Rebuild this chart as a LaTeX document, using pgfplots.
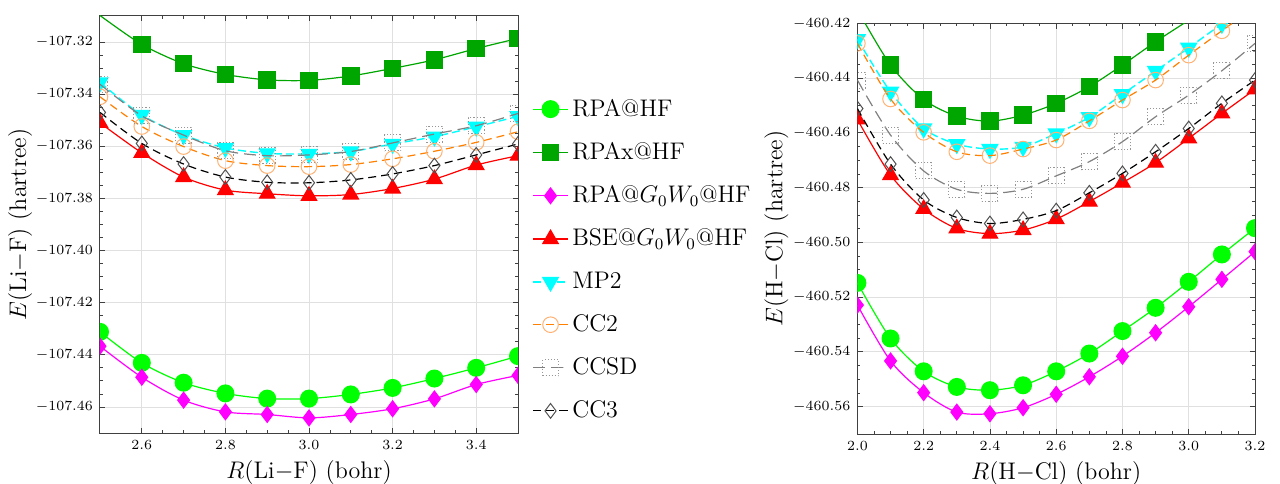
\documentclass[border=0pt]{standalone}
\usepackage{pgfplots}
\pgfplotsset{compat=1.18}
\definecolor{cgreen}{RGB}{0,255,0}
\definecolor{dgreen}{RGB}{0,166,0}
\definecolor{cmag}{RGB}{255,0,255}
\definecolor{cred}{RGB}{255,0,0}
\definecolor{ccyan}{RGB}{0,255,255}
\definecolor{corange}{RGB}{255,128,0}
\definecolor{lorange}{RGB}{255,178,115}
\definecolor{cgray}{RGB}{128,128,128}
\definecolor{lgray}{RGB}{150,150,150}
\definecolor{dgray}{RGB}{80,80,80}
\pgfplotsset{
  common/.style={
    scale only axis,
    axis line style={black!75, line width=0.5pt},
    tick align=inside,
    major tick length=2.6pt,
    minor tick length=1.5pt,
    tick style={black!75, line width=0.4pt},
    minor tick num=3,
    grid=major,
    major grid style={black!12, line width=0.4pt},
    clip marker paths=true,
    tick label style={font=\fontsize{7}{8}\selectfont},
    label style={font=\fontsize{12}{14}\selectfont},
    xticklabel style={/pgf/number format/.cd, fixed, fixed zerofill, precision=1},
    yticklabel style={/pgf/number format/.cd, fixed, fixed zerofill, precision=2, 1000 sep={}},
  },
  sA/.style={cgreen, line width=0.6pt, smooth, mark=*, mark size=4.2pt, mark options={solid, fill=cgreen, draw=cgreen}},
  sB/.style={dgreen, line width=0.6pt, smooth, mark=square*, mark size=4.1pt, mark options={solid, fill=dgreen, draw=dgreen}},
  sC/.style={cmag, line width=0.6pt, smooth, mark=diamond*, mark size=3.9pt, mark options={solid, fill=cmag, draw=cmag}},
  sD/.style={cred, line width=0.6pt, smooth, mark=triangle*, mark size=4.4pt, mark options={solid, fill=cred, draw=cred}},
  sE/.style={ccyan, line width=0.7pt, smooth, dash pattern=on 4pt off 2pt, mark=triangle*, mark size=4.4pt, mark options={solid, rotate=180, fill=ccyan, draw=ccyan}},
  sF/.style={corange, line width=0.6pt, smooth, dash pattern=on 4pt off 2.5pt, mark=o, mark size=3.9pt, mark options={solid, draw=lorange, line width=0.5pt}},
  sG/.style={cgray, line width=0.6pt, smooth, dash pattern=on 6pt off 3pt, mark=square, mark size=4pt, mark options={densely dotted, draw=lgray, line width=0.5pt}},
  sH/.style={black, line width=0.6pt, smooth, dash pattern=on 4pt off 2.5pt, mark=diamond, mark size=3.7pt, mark options={solid, draw=dgray, line width=0.5pt}},
}
\begin{document}
\begin{tikzpicture}
\path[use as bounding box] (0,0) rectangle (640pt,241.5pt);
\begin{axis}[common,
  at={(50pt,25pt)}, anchor=south west,
  width=209pt, height=208.5pt,
  xmin=2.5, xmax=3.5, ymin=-107.47, ymax=-107.31,
  xtick={2.6,2.8,3.0,3.2,3.4},
  ytick={-107.46,-107.44,-107.42,-107.40,-107.38,-107.36,-107.34,-107.32},
  xlabel={$R$(Li$-$F) (bohr)},
  ylabel={$E$(Li$-$F) (hartree)},
  xlabel style={yshift=1pt},
  ylabel style={yshift=-5pt},
  legend style={at={(1.02,0.415)}, anchor=west, draw=none, fill=none,
    font=\fontsize{12}{14}\selectfont, row sep=7.6pt,
    /tikz/every even column/.append style={column sep=2pt}},
  legend cell align=left,
]
\addplot[sA] coordinates {(2.5,-107.4312) (2.6,-107.4431) (2.7,-107.4507) (2.8,-107.4548) (2.9,-107.4568) (3.0,-107.4568) (3.1,-107.4552) (3.2,-107.4527) (3.3,-107.4491) (3.4,-107.4450) (3.5,-107.4405)};
\addlegendentry{RPA@HF}
\addplot[sB] coordinates {(2.5,-107.3098) (2.6,-107.3209) (2.7,-107.3283) (2.8,-107.3324) (2.9,-107.3345) (3.0,-107.3347) (3.1,-107.3330) (3.2,-107.3301) (3.3,-107.3268) (3.4,-107.3225) (3.5,-107.3186)};
\addlegendentry{RPAx@HF}
\addplot[sC] coordinates {(2.5,-107.4367) (2.6,-107.4486) (2.7,-107.4574) (2.8,-107.4619) (2.9,-107.4629) (3.0,-107.4642) (3.1,-107.4629) (3.2,-107.4607) (3.3,-107.4569) (3.4,-107.4514) (3.5,-107.4479)};
\addlegendentry{RPA@$G_0W_0$@HF}
\addplot[sD] coordinates {(2.5,-107.3510) (2.6,-107.3625) (2.7,-107.3718) (2.8,-107.3768) (2.9,-107.3782) (3.0,-107.3790) (3.1,-107.3785) (3.2,-107.3762) (3.3,-107.3726) (3.4,-107.3672) (3.5,-107.3636)};
\addlegendentry{BSE@$G_0W_0$@HF}
\addplot[sE] coordinates {(2.5,-107.3355) (2.6,-107.3480) (2.7,-107.3557) (2.8,-107.3606) (2.9,-107.3627) (3.0,-107.3629) (3.1,-107.3620) (3.2,-107.3591) (3.3,-107.3563) (3.4,-107.3525) (3.5,-107.3485)};
\addlegendentry{MP2}
\addplot[sF] coordinates {(2.5,-107.3410) (2.6,-107.3524) (2.7,-107.3601) (2.8,-107.3655) (2.9,-107.3674) (3.0,-107.3678) (3.1,-107.3670) (3.2,-107.3648) (3.3,-107.3619) (3.4,-107.3585) (3.5,-107.3544)};
\addlegendentry{CC2}
\addplot[sG] coordinates {(2.5,-107.3362) (2.6,-107.3483) (2.7,-107.3557) (2.8,-107.3617) (2.9,-107.3636) (3.0,-107.3633) (3.1,-107.3620) (3.2,-107.3587) (3.3,-107.3553) (3.4,-107.3521) (3.5,-107.3474)};
\addlegendentry{CCSD}
\addplot[sH] coordinates {(2.5,-107.3470) (2.6,-107.3589) (2.7,-107.3668) (2.8,-107.3718) (2.9,-107.3738) (3.0,-107.3740) (3.1,-107.3729) (3.2,-107.3706) (3.3,-107.3674) (3.4,-107.3633) (3.5,-107.3591)};
\addlegendentry{CC3}
\end{axis}
\begin{axis}[common,
  at={(428.7pt,24.5pt)}, anchor=south west,
  width=198.8pt, height=205.3pt,
  xmin=2.0, xmax=3.2, ymin=-460.57, ymax=-460.42,
  xtick={2.0,2.2,2.4,2.6,2.8,3.0,3.2},
  ytick={-460.56,-460.54,-460.52,-460.50,-460.48,-460.46,-460.44,-460.42},
  xlabel={$R$(H$-$Cl) (bohr)},
  ylabel={$E$(H$-$Cl) (hartree)},
  xlabel style={yshift=1pt},
  ylabel style={yshift=-4.5pt},
]
\addplot[sA] coordinates {(2.0,-460.5148) (2.1,-460.5351) (2.2,-460.5471) (2.3,-460.5528) (2.4,-460.5540) (2.5,-460.5522) (2.6,-460.5471) (2.7,-460.5406) (2.8,-460.5324) (2.9,-460.5239) (3.0,-460.5144) (3.1,-460.5044) (3.2,-460.4948)};
\addplot[sB] coordinates {(2.0,-460.4150) (2.1,-460.4352) (2.2,-460.4478) (2.3,-460.4539) (2.4,-460.4557) (2.5,-460.4535) (2.6,-460.4492) (2.7,-460.4431) (2.8,-460.4352) (2.9,-460.4267) (3.0,-460.4188) (3.1,-460.4105) (3.2,-460.4025)};
\addplot[sC] coordinates {(2.0,-460.5229) (2.1,-460.5433) (2.2,-460.5549) (2.3,-460.5620) (2.4,-460.5626) (2.5,-460.5604) (2.6,-460.5555) (2.7,-460.5491) (2.8,-460.5416) (2.9,-460.5330) (3.0,-460.5235) (3.1,-460.5135) (3.2,-460.5034)};
\addplot[sD] coordinates {(2.0,-460.4551) (2.1,-460.4754) (2.2,-460.4878) (2.3,-460.4949) (2.4,-460.4968) (2.5,-460.4955) (2.6,-460.4915) (2.7,-460.4851) (2.8,-460.4782) (2.9,-460.4709) (3.0,-460.4620) (3.1,-460.4529) (3.2,-460.4441)};
\addplot[sE] coordinates {(2.0,-460.4258) (2.1,-460.4450) (2.2,-460.4584) (2.3,-460.4641) (2.4,-460.4659) (2.5,-460.4651) (2.6,-460.4602) (2.7,-460.4543) (2.8,-460.4459) (2.9,-460.4374) (3.0,-460.4289) (3.1,-460.4202) (3.2,-460.4120)};
\addplot[sF] coordinates {(2.0,-460.4273) (2.1,-460.4476) (2.2,-460.4598) (2.3,-460.4669) (2.4,-460.4683) (2.5,-460.4659) (2.6,-460.4626) (2.7,-460.4556) (2.8,-460.4480) (2.9,-460.4407) (3.0,-460.4316) (3.1,-460.4227) (3.2,-460.4140)};
\addplot[sG] coordinates {(2.0,-460.4407) (2.1,-460.4608) (2.2,-460.4739) (2.3,-460.4806) (2.4,-460.4821) (2.5,-460.4806) (2.6,-460.4757) (2.7,-460.4705) (2.8,-460.4632) (2.9,-460.4541) (3.0,-460.4462) (3.1,-460.4373) (3.2,-460.4273)};
\addplot[sH] coordinates {(2.0,-460.4511) (2.1,-460.4714) (2.2,-460.4845) (2.3,-460.4909) (2.4,-460.4931) (2.5,-460.4916) (2.6,-460.4884) (2.7,-460.4819) (2.8,-460.4748) (2.9,-460.4669) (3.0,-460.4584) (3.1,-460.4492) (3.2,-460.4407)};
\end{axis}
\end{tikzpicture}
\end{document}
